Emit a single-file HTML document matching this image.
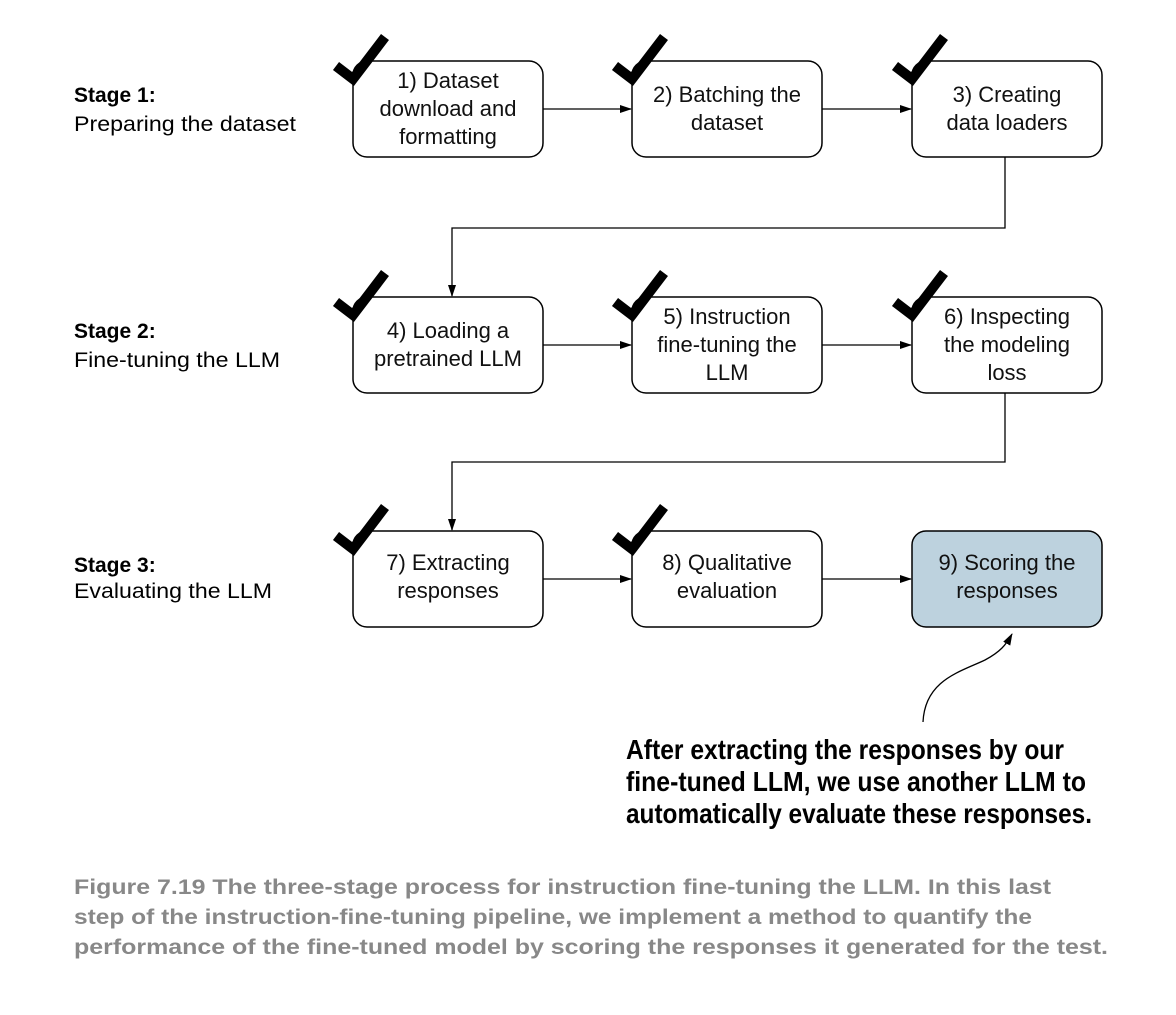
<!DOCTYPE html>
<html><head><style>
body{margin:0;background:#fff;width:1176px;height:1010px;overflow:hidden}
svg text{font-family:"Liberation Sans",sans-serif}
</style></head><body>
<svg width="1176" height="1010" viewBox="0 0 1176 1010">
<defs><marker id="a" markerWidth="12" markerHeight="10" refX="11" refY="5" orient="auto" markerUnits="userSpaceOnUse"><path d="M0,1 L12,5 L0,9z" fill="#000"/></marker>
<g id="ck"><path d="M-17,-13 L0,0 L32,-42" fill="none" stroke="#000" stroke-width="10" stroke-linecap="butt"/></g></defs>
<g font-size="21" fill="#000">
<text x="74" y="102" font-weight="bold">Stage 1:</text><text x="74" y="131" textLength="222" lengthAdjust="spacingAndGlyphs">Preparing the dataset</text>
<text x="74" y="338" font-weight="bold">Stage 2:</text><text x="74" y="367" textLength="206" lengthAdjust="spacingAndGlyphs">Fine-tuning the LLM</text>
<text x="74" y="572" font-weight="bold">Stage 3:</text><text x="74" y="598" textLength="198" lengthAdjust="spacingAndGlyphs">Evaluating the LLM</text>
</g>
<g fill="#fff" stroke="#000" stroke-width="1.5">
<rect x="353" y="61" width="190" height="96" rx="14"/><rect x="632" y="61" width="190" height="96" rx="14"/><rect x="912" y="61" width="190" height="96" rx="14"/>
<rect x="353" y="297" width="190" height="96" rx="14"/><rect x="632" y="297" width="190" height="96" rx="14"/><rect x="912" y="297" width="190" height="96" rx="14"/>
<rect x="353" y="531" width="190" height="96" rx="14"/><rect x="632" y="531" width="190" height="96" rx="14"/><rect x="912" y="531" width="190" height="96" rx="14" fill="#bdd2de"/>
</g>
<g stroke="#000" stroke-width="1.3" fill="none" marker-end="url(#a)">
<path d="M543,109 H631"/><path d="M822,109 H911"/>
<path d="M543,345 H631"/><path d="M822,345 H911"/>
<path d="M543,579 H631"/><path d="M822,579 H911"/>
<path d="M1005,157 V228 H452 V296"/>
<path d="M1005,393 V462 H452 V530"/>
<path d="M923,722 C925,680 960,672 985,660 C1000,652 1006,645 1012,634"/>
</g>
<use href="#ck" x="353" y="79"/><use href="#ck" x="632" y="79"/><use href="#ck" x="912" y="79"/>
<use href="#ck" x="353" y="315"/><use href="#ck" x="632" y="315"/><use href="#ck" x="912" y="315"/>
<use href="#ck" x="353" y="549"/><use href="#ck" x="632" y="549"/>
<g font-size="22" text-anchor="middle" fill="#111">
<text x="448" y="88">1) Dataset</text><text x="448" y="116">download and</text><text x="448" y="144">formatting</text>
<text x="727" y="102">2) Batching the</text><text x="727" y="130">dataset</text>
<text x="1007" y="102">3) Creating</text><text x="1007" y="130">data loaders</text>
<text x="448" y="338">4) Loading a</text><text x="448" y="366">pretrained LLM</text>
<text x="727" y="324">5) Instruction</text><text x="727" y="352">fine-tuning the</text><text x="727" y="380">LLM</text>
<text x="1007" y="324">6) Inspecting</text><text x="1007" y="352">the modeling</text><text x="1007" y="380">loss</text>
<text x="448" y="570">7) Extracting</text><text x="448" y="598">responses</text>
<text x="727" y="570">8) Qualitative</text><text x="727" y="598">evaluation</text>
<text x="1007" y="570">9) Scoring the</text><text x="1007" y="598">responses</text>
</g>
<g font-size="28" font-weight="bold" fill="#000">
<text x="626" y="759" textLength="438" lengthAdjust="spacingAndGlyphs">After extracting the responses by our</text>
<text x="626" y="791" textLength="460" lengthAdjust="spacingAndGlyphs">fine-tuned LLM, we use another LLM to</text>
<text x="626" y="823" textLength="466" lengthAdjust="spacingAndGlyphs">automatically evaluate these responses.</text>
</g>
<g font-size="21" font-weight="bold" fill="#888">
<text x="74" y="894" textLength="977" lengthAdjust="spacingAndGlyphs">Figure 7.19    The three-stage process for instruction fine-tuning the LLM. In this last</text>
<text x="74" y="924" textLength="958" lengthAdjust="spacingAndGlyphs">step of the instruction-fine-tuning pipeline, we implement a method to quantify the</text>
<text x="74" y="954" textLength="1034" lengthAdjust="spacingAndGlyphs">performance of the fine-tuned model by scoring the responses it generated for the test.</text>
</g>
</svg>
</body></html>
